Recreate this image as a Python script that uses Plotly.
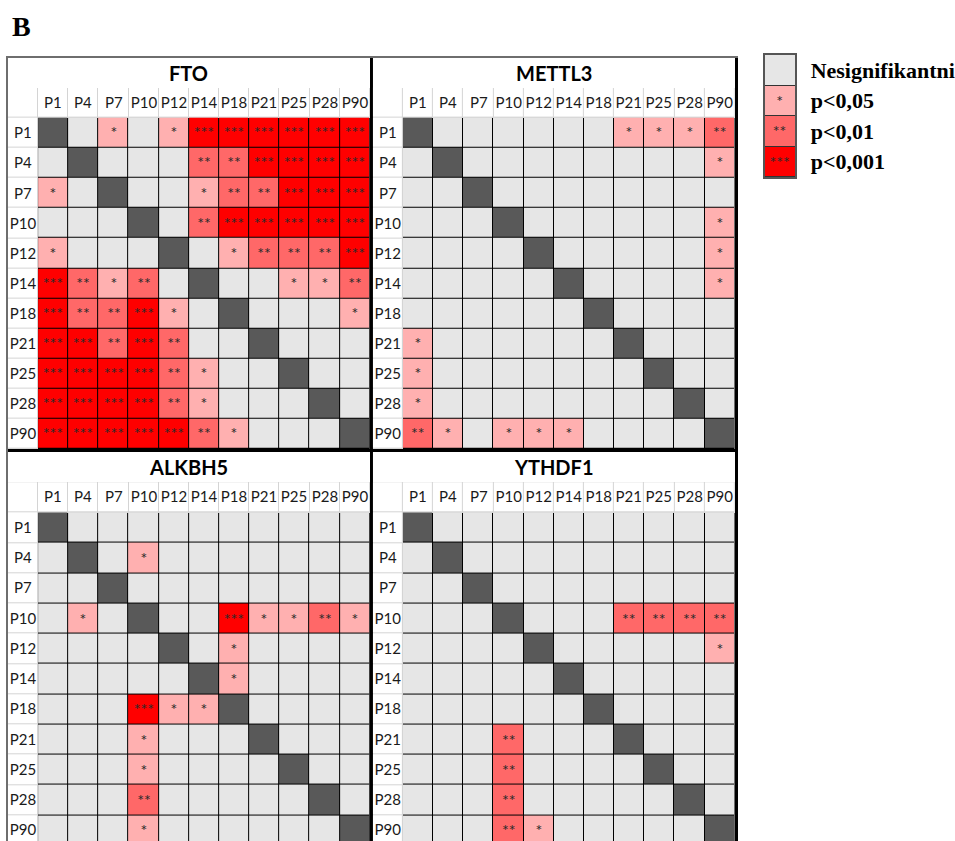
import plotly.graph_objects as go

labels = ["P1", "P4", "P7", "P10", "P12", "P14", "P18", "P21", "P25", "P28", "P90"]
D = -1  # diagonal
fto = [
    [D, 0, 1, 0, 1, 3, 3, 3, 3, 3, 3],
    [0, D, 0, 0, 0, 2, 2, 3, 3, 3, 3],
    [1, 0, D, 0, 0, 1, 2, 2, 3, 3, 3],
    [0, 0, 0, D, 0, 2, 3, 3, 3, 3, 3],
    [1, 0, 0, 0, D, 0, 1, 2, 2, 2, 3],
    [3, 2, 1, 2, 0, D, 0, 0, 1, 1, 2],
    [3, 2, 2, 3, 1, 0, D, 0, 0, 0, 1],
    [3, 3, 2, 3, 2, 0, 0, D, 0, 0, 0],
    [3, 3, 3, 3, 2, 1, 0, 0, D, 0, 0],
    [3, 3, 3, 3, 2, 1, 0, 0, 0, D, 0],
    [3, 3, 3, 3, 3, 2, 1, 0, 0, 0, D],
]
mettl3 = [
    [D, 0, 0, 0, 0, 0, 0, 1, 1, 1, 2],
    [0, D, 0, 0, 0, 0, 0, 0, 0, 0, 1],
    [0, 0, D, 0, 0, 0, 0, 0, 0, 0, 0],
    [0, 0, 0, D, 0, 0, 0, 0, 0, 0, 1],
    [0, 0, 0, 0, D, 0, 0, 0, 0, 0, 1],
    [0, 0, 0, 0, 0, D, 0, 0, 0, 0, 1],
    [0, 0, 0, 0, 0, 0, D, 0, 0, 0, 0],
    [1, 0, 0, 0, 0, 0, 0, D, 0, 0, 0],
    [1, 0, 0, 0, 0, 0, 0, 0, D, 0, 0],
    [1, 0, 0, 0, 0, 0, 0, 0, 0, D, 0],
    [2, 1, 0, 1, 1, 1, 0, 0, 0, 0, D],
]
alkbh5 = [
    [D, 0, 0, 0, 0, 0, 0, 0, 0, 0, 0],
    [0, D, 0, 1, 0, 0, 0, 0, 0, 0, 0],
    [0, 0, D, 0, 0, 0, 0, 0, 0, 0, 0],
    [0, 1, 0, D, 0, 0, 3, 1, 1, 2, 1],
    [0, 0, 0, 0, D, 0, 1, 0, 0, 0, 0],
    [0, 0, 0, 0, 0, D, 1, 0, 0, 0, 0],
    [0, 0, 0, 3, 1, 1, D, 0, 0, 0, 0],
    [0, 0, 0, 1, 0, 0, 0, D, 0, 0, 0],
    [0, 0, 0, 1, 0, 0, 0, 0, D, 0, 0],
    [0, 0, 0, 2, 0, 0, 0, 0, 0, D, 0],
    [0, 0, 0, 1, 0, 0, 0, 0, 0, 0, D],
]
ythdf1 = [
    [D, 0, 0, 0, 0, 0, 0, 0, 0, 0, 0],
    [0, D, 0, 0, 0, 0, 0, 0, 0, 0, 0],
    [0, 0, D, 0, 0, 0, 0, 0, 0, 0, 0],
    [0, 0, 0, D, 0, 0, 0, 2, 2, 2, 2],
    [0, 0, 0, 0, D, 0, 0, 0, 0, 0, 1],
    [0, 0, 0, 0, 0, D, 0, 0, 0, 0, 0],
    [0, 0, 0, 0, 0, 0, D, 0, 0, 0, 0],
    [0, 0, 0, 2, 0, 0, 0, D, 0, 0, 0],
    [0, 0, 0, 2, 0, 0, 0, 0, D, 0, 0],
    [0, 0, 0, 2, 0, 0, 0, 0, 0, D, 0],
    [0, 0, 0, 2, 1, 0, 0, 0, 0, 0, D],
]
panel_names = ["FTO", "METTL3", "ALKBH5", "YTHDF1"]
panel_data = [fto, mettl3, alkbh5, ythdf1]
legend_levels = [0, 1, 2, 3]
legend_labels = ["Nesignifikantni", "p&lt;0,05", "p&lt;0,01", "p&lt;0,001"]

W, H = 955, 841
C_DIAG, C_NS, C_1, C_2, C_3 = "#595959", "#E6E6E6", "#FFB0B0", "#FF6868", "#FF0000"
sig_scale = [
    [0.0, C_DIAG], [0.125, C_DIAG],
    [0.125, C_NS], [0.375, C_NS],
    [0.375, C_1], [0.625, C_1],
    [0.625, C_2], [0.875, C_2],
    [0.875, C_3], [1.0, C_3],
]
STAR_FONT = dict(family="Lato", size=16, color="#2b2b2b")


def px_x(p):
    return p / W


def px_y(p):
    return 1 - p / H


# panel geometry in pixels: (x0, x1, y0, y1, visible rows end)
geoms = [
    (8, 371, 57.5, 449, 12.5),
    (374, 737, 57.5, 449, 12.5),
    (8, 371, 452, 841, 12.35),
    (374, 737, 452, 841, 12.35),
]

fig = go.Figure()
layout = dict(
    width=W, height=H, autosize=False,
    margin=dict(l=0, r=0, t=0, b=0),
    paper_bgcolor="white", plot_bgcolor="rgba(0,0,0,0)",
    showlegend=False, annotations=[],
)

# outer frame (top and left edges)
fig.add_trace(go.Scatter(x=[], y=[], xaxis="x5", yaxis="y5", hoverinfo="skip"))
layout["xaxis5"] = dict(domain=[px_x(8), px_x(740)], range=[0, 1], anchor="y5",
                        showgrid=False, zeroline=False, showticklabels=False, ticks="",
                        showline=True, linecolor="#6e6e6e", linewidth=1.5, side="top", fixedrange=True)
layout["yaxis5"] = dict(domain=[0, px_y(57.5)], range=[0, 1], anchor="x5",
                        showgrid=False, zeroline=False, showticklabels=False, ticks="",
                        showline=True, linecolor="#6e6e6e", linewidth=1.5, side="left", fixedrange=True)

n = len(labels)
for i, (name, mat, g) in enumerate(zip(panel_names, panel_data, geoms), start=1):
    xr = "x" if i == 1 else f"x{i}"
    yr = "y" if i == 1 else f"y{i}"
    x0, x1, y0, y1, yend = g
    # line layer (grid colours under the cells)
    bg = []
    for r in range(n + 2):
        row = []
        for c in range(n + 1):
            if r == 0:
                row.append(0)
            elif r == 1 or c == 0:
                row.append(1)
            else:
                row.append(2)
        bg.append(row)
    fig.add_trace(go.Heatmap(
        z=bg, x=list(range(n + 1)), y=list(range(n + 2)),
        colorscale=[[0, "white"], [0.5, "#D4D4D4"], [1, "#000000"]],
        zmin=0, zmax=2, showscale=False, hoverinfo="skip", xaxis=xr, yaxis=yr,
    ))
    # significance cells
    stars = [["*" * v if v > 0 else "" for v in row] for row in mat]
    fig.add_trace(go.Heatmap(
        z=mat, x=list(range(1, n + 1)), y=list(range(2, n + 2)),
        text=stars, texttemplate="%{text}", textfont=STAR_FONT,
        colorscale=sig_scale, zmin=-1, zmax=3, showscale=False,
        xgap=1, ygap=1, hoverinfo="skip", xaxis=xr, yaxis=yr,
    ))
    # header row / label column
    hz, ht = [], []
    for r in range(n + 1):
        zr, tr = [], []
        for c in range(n + 1):
            if r == 0 and c == 0:
                zr.append(0); tr.append("")
            elif r == 0:
                zr.append(0); tr.append(labels[c - 1])
            elif c == 0:
                zr.append(0); tr.append(labels[r - 1])
            else:
                zr.append(None); tr.append("")
        hz.append(zr); ht.append(tr)
    fig.add_trace(go.Heatmap(
        z=hz, x=list(range(n + 1)), y=list(range(1, n + 2)),
        text=ht, texttemplate="%{text}",
        textfont=dict(family="Lato", size=15, color="#1a1a1a"),
        colorscale=[[0, "white"], [1, "white"]], zmin=0, zmax=1, showscale=False,
        xgap=1, ygap=1, hoverinfo="skip", xaxis=xr, yaxis=yr,
    ))
    xkey = "xaxis" if i == 1 else f"xaxis{i}"
    ykey = "yaxis" if i == 1 else f"yaxis{i}"
    layout[xkey] = dict(
        domain=[px_x(x0), px_x(x1)], range=[-0.5, n + 0.5], anchor=yr,
        showgrid=False, zeroline=False, showticklabels=False, ticks="",
        showline=(i <= 2), linecolor="black", linewidth=3, side="bottom", fixedrange=True,
    )
    layout[ykey] = dict(
        domain=[px_y(y1), px_y(y0)], range=[yend, -0.5], anchor=xr,
        showgrid=False, zeroline=False, showticklabels=False, ticks="",
        showline=True, linecolor="black", linewidth=3, side="right", fixedrange=True,
    )
    layout["annotations"].append(dict(
        text=name, xref=f"{xr} domain", x=0.5, yref=yr, y=0,
        showarrow=False, xanchor="center", yanchor="middle",
        font=dict(family="Lato", size=20, color="black", weight=700),
    ))

# legend as a small heatmap (dark layer underneath gives the separators)
fig.add_trace(go.Heatmap(
    z=[[0] for _ in legend_levels], x=[0], y=legend_levels,
    colorscale=[[0, "#333333"], [1, "#333333"]], zmin=0, zmax=1, showscale=False,
    hoverinfo="skip", xaxis="x6", yaxis="y6",
))
fig.add_trace(go.Heatmap(
    z=[[v] for v in legend_levels], x=[0], y=legend_levels,
    text=[["*" * v if v > 0 else ""] for v in legend_levels], texttemplate="%{text}",
    textfont=STAR_FONT,
    colorscale=sig_scale, zmin=-1, zmax=3, showscale=False, ygap=1,
    hoverinfo="skip", xaxis="x6", yaxis="y6",
))
layout["xaxis6"] = dict(domain=[px_x(767), px_x(798)], range=[-0.5, 0.5], anchor="y6",
                        showgrid=False, zeroline=False, showticklabels=False, ticks="",
                        showline=True, mirror=True, linecolor="#555555", linewidth=1.5, fixedrange=True)
layout["yaxis6"] = dict(domain=[px_y(177), px_y(55)], range=[3.5, -0.5], anchor="x6",
                        showgrid=False, zeroline=False, side="right",
                        tickmode="array", tickvals=legend_levels, ticktext=legend_labels,
                        ticks="", ticklabelstandoff=9,
                        tickfont=dict(family="Liberation Serif", size=22, color="black", weight=700),
                        showline=True, mirror=True, linecolor="#555555", linewidth=1.5, fixedrange=True)

layout["annotations"].append(dict(
    text="B", xref="paper", yref="paper", x=px_x(10), y=px_y(26.6),
    xanchor="left", yanchor="middle", showarrow=False,
    font=dict(family="Liberation Serif", size=28, color="black", weight=700),
))

fig.update_layout(**layout)
fig.write_html("out.html", config={"displayModeBar": False},
               post_script="document.body.style.margin='0';document.body.style.overflow='hidden';")
